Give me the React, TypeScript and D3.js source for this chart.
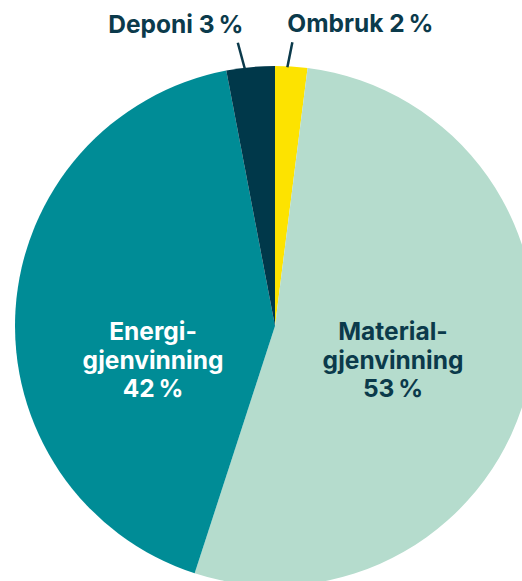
import React, { useEffect, useRef } from 'react';
import * as d3 from 'd3';

// Data (clockwise from 12 o'clock)
const categories = ['Ombruk', 'Materialgjenvinning', 'Energigjenvinning', 'Deponi'];
const shares = [2, 53, 42, 3];
const labelLines = [
  ['Ombruk 2\u202F%'],
  ['Material-', 'gjenvinning', '53\u202F%'],
  ['Energi-', 'gjenvinning', '42\u202F%'],
  ['Deponi 3\u202F%'],
];
const colors = ['#fde300', '#b5dccd', '#008c96', '#00384a'];
const textColors = ['#0b3a4b', '#0b3a4b', '#ffffff', '#0b3a4b'];

const App: React.FC = () => {
  const svgRef = useRef<SVGSVGElement>(null);

  useEffect(() => {
    if (!svgRef.current) return;
    document.body.style.margin = '0';

    const svg = d3.select(svgRef.current);
    svg.selectAll('*').remove();

    const width = 522;
    const height = 581;
    const cx = 275;
    const cy = 326;
    const radius = 260;
    const font = "Inter, 'Liberation Sans', Arial, sans-serif";
    const fontSize = '24.5px';

    const data = categories.map((c, i) => ({
      category: c,
      value: shares[i],
      color: colors[i],
      textColor: textColors[i],
      lines: labelLines[i],
    }));

    const pie = d3.pie<typeof data[0]>()
      .value(d => d.value)
      .sort(null);

    const arcs = pie(data);
    const arc = d3.arc<d3.PieArcDatum<typeof data[0]>>()
      .innerRadius(0)
      .outerRadius(radius);

    svg.attr('width', width).attr('height', height);

    const g = svg.append('g')
      .attr('transform', `translate(${cx},${cy})`);

    g.selectAll('path')
      .data(arcs)
      .enter()
      .append('path')
      .attr('d', arc)
      .attr('fill', d => d.data.color);

    // Inside labels for the big slices
    const inside = arcs.filter(d => d.data.lines.length > 1);
    const insideOffsets: Record<string, [number, number]> = {
      Materialgjenvinning: [118, 14],
      Energigjenvinning: [-122, 14],
    };
    inside.forEach(d => {
      const [ox, oy] = insideOffsets[d.data.category];
      const t = g.append('text')
        .attr('text-anchor', 'middle')
        .attr('fill', d.data.textColor)
        .attr('font-family', font)
        .attr('font-weight', 'bold')
        .attr('font-size', fontSize);
      d.data.lines.forEach((line, i) => {
        t.append('tspan')
          .attr('x', ox)
          .attr('y', oy + i * 28.5)
          .text(line);
      });
    });

    // Outside labels with leader lines for the small slices
    const outside = arcs.filter(d => d.data.lines.length === 1);
    const outsideLayout: Record<string, { dx: number; dy: number; anchor: string; tx: number }> = {
      Ombruk: { dx: 5, dy: -25, anchor: 'start', tx: -5 },
      Deponi: { dx: -7, dy: -26, anchor: 'middle', tx: -62 },
    };
    outside.forEach(d => {
      const a = d.startAngle + 0.38 * (d.endAngle - d.startAngle);
      const x0 = Math.sin(a) * (radius - 1);
      const y0 = -Math.cos(a) * (radius - 1);
      const l = outsideLayout[d.data.category];
      g.append('line')
        .attr('x1', x0)
        .attr('y1', y0)
        .attr('x2', x0 + l.dx)
        .attr('y2', y0 + l.dy)
        .attr('stroke', '#0b3a4b')
        .attr('stroke-width', 2.5);
      g.append('text')
        .attr('x', x0 + l.dx + l.tx)
        .attr('y', y0 + l.dy - 10)
        .attr('text-anchor', l.anchor)
        .attr('fill', d.data.textColor)
        .attr('font-family', font)
        .attr('font-weight', 'bold')
        .attr('font-size', fontSize)
        .text(d.data.lines[0]);
    });
  }, []);

  return (
    <div style={{ width: 522, height: 581, overflow: 'hidden' }}>
      <svg ref={svgRef} style={{ display: 'block' }}></svg>
    </div>
  );
};

export default App;
